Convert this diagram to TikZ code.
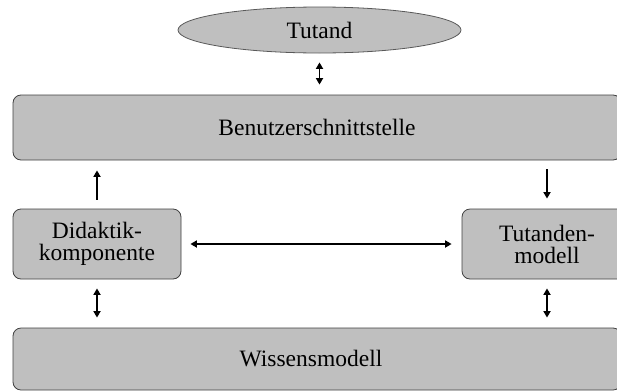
\documentclass[tikz,border=0pt]{standalone}
\usepackage{fontspec}
\setmainfont{Liberation Serif}
\usetikzlibrary{positioning,arrows.meta,shapes.geometric}

\begin{document}
\begin{tikzpicture}[x=1pt,y=-1pt,
		box/.style={draw=black!75, line width=0.8pt, fill=black!25, rounded corners=8pt, align=center, inner sep=0pt, font=\rmfamily\fontsize{23.5}{22}\selectfont},
		oval/.style={ellipse, draw=black!65, line width=0.8pt, fill=black!25, inner sep=0pt, font=\rmfamily\fontsize{23.5}{22}\selectfont},
		pfeil/.style={line width=1.7pt, shorten <=9pt, shorten >=10pt},
		>={Triangle[length=6.5pt,width=7pt]}]
	\useasboundingbox (0,0) rectangle (617,391);
	\clip (0,0) rectangle (617,391);
	
	\node[oval, minimum width=283pt, minimum height=46pt] (tutand) at (319.5,30) {Tutand};
	\node[box, minimum width=608pt, minimum height=65pt] (schnitt) at (317,127.5) {Benutzerschnittstelle};
	\node[box, minimum width=168pt, minimum height=70pt] (didaktik) at (97,244) {Didaktik-\\komponente};
	\node[box, minimum width=170pt, minimum height=70pt] (tutanden) at (547,244) {Tutanden-\\modell};
	\node[box, minimum width=608pt, minimum height=62pt] (wissen) at (317,359) {Wissensmodell\hspace*{12pt}};
	
	\draw[pfeil,<->] (tutand.south) -- (tutand.south |- schnitt.north);
	\draw[pfeil,->] (didaktik.north) -- (didaktik.north |- schnitt.south);
	\draw[pfeil,->] (tutanden.north |- schnitt.south) -- (tutanden.north);
	\draw[pfeil,<->] (didaktik.east) -- (tutanden.west);
	\draw[pfeil,<->] (didaktik.south) -- (didaktik.south |- wissen.north);
	\draw[pfeil,<->] (tutanden.south) -- (tutanden.south |- wissen.north);
\end{tikzpicture}
\end{document}
